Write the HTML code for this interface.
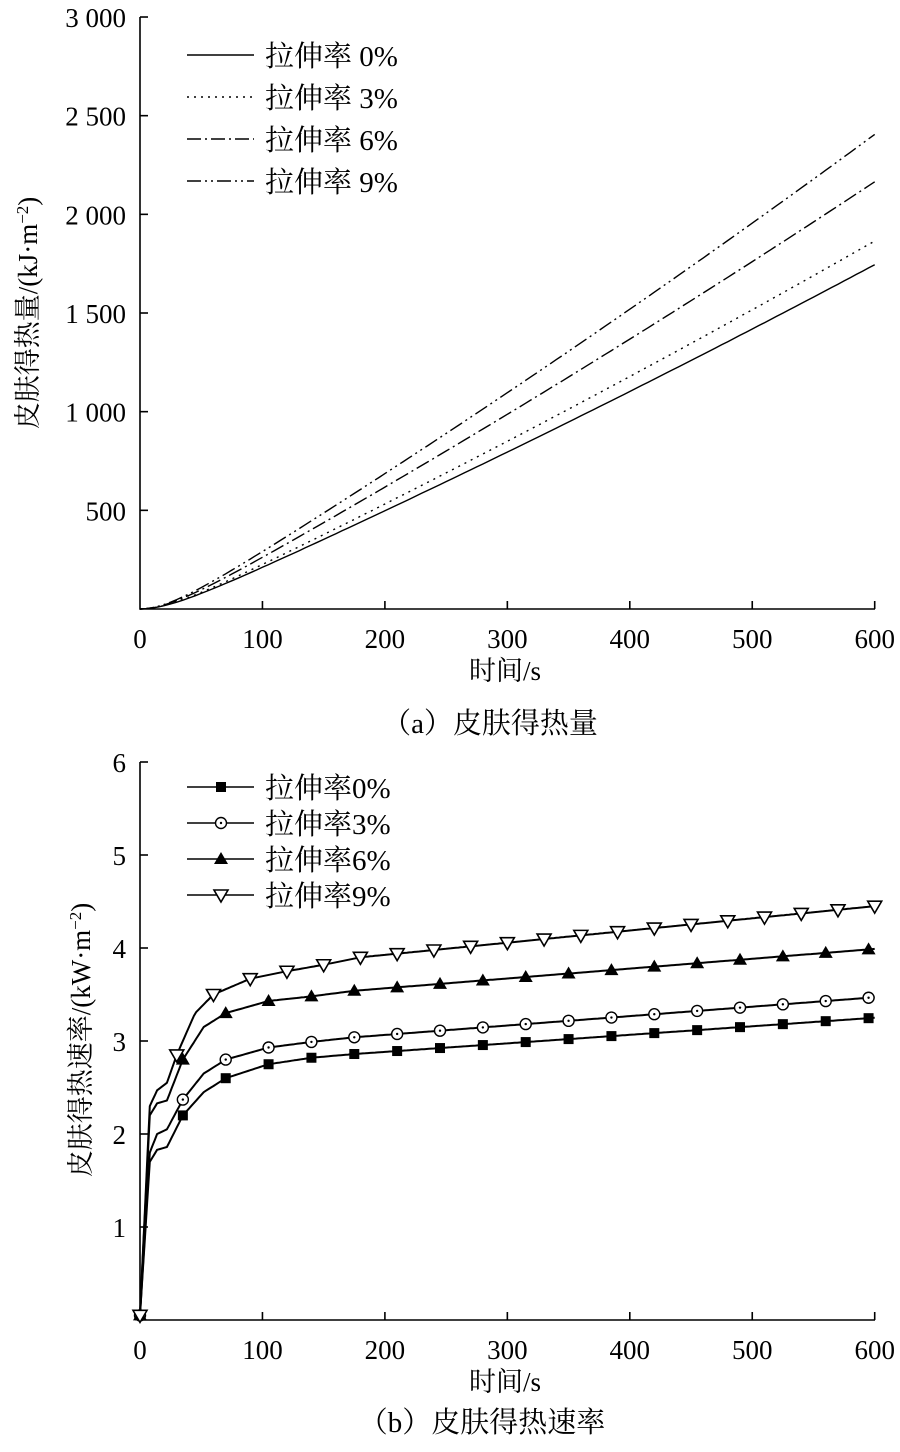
<!DOCTYPE html><html><head><meta charset="utf-8"><style>body{margin:0;background:#fff}svg text{font-family:"Liberation Serif","Noto Serif CJK SC",serif;fill:#000}</style></head><body>
<svg id="s" width="900" height="1447" xmlns="http://www.w3.org/2000/svg"></svg>
<script>
const s=document.getElementById('s');let h='';
const X=t=>140+t*1.2245;
const Y1=v=>609-v*0.19733;
h+=`<g stroke="#000" stroke-width="1.6" fill="none"><path d="M140 17V609H875"/>`;
for(let v=500;v<=3000;v+=500)h+=`<path d="M140 ${Y1(v)}h8"/>`;
for(let t=100;t<=600;t+=100)h+=`<path d="M${X(t)} 609v-8"/>`;
h+='</g>';
for(let v=500;v<=3000;v+=500){let l=v>=1000?String(v).replace(/(\d)(\d{3})$/,'$1 $2'):v;h+=`<text x="126" y="${Y1(v)+10}" font-size="27" text-anchor="end">${l}</text>`}
for(let t=0;t<=600;t+=100)h+=`<text x="${X(t)}" y="648" font-size="27" text-anchor="middle">${t}</text>`;
h+=`<text x="505" y="680" font-size="27" text-anchor="middle">时间/s</text>`;
h+=`<text transform="translate(37,313) rotate(-90)" font-size="27" text-anchor="middle">皮肤得热量/(kJ·m<tspan dy="-9" font-size="17">−2</tspan><tspan dy="9">)</tspan></text>`;
h+=`<text x="490" y="733" font-size="29" text-anchor="middle">（a）皮肤得热量</text>`;
const fin=[1745,1865,2165,2405],das=['','2 5','14 4 2 4','14 4 2 4 2 4'];
fin.forEach((f,i)=>{let p='';for(let t=0;t<=600;t+=5){let g=t=>2.29*(t-25*(1-Math.exp(-t/25)))+0.0004*t*t;let v=f*g(t)/g(600);p+=(t?'L':'M')+X(t).toFixed(1)+' '+Y1(v).toFixed(1)}h+=`<path d="${p}" stroke="#000" stroke-width="1.4" fill="none" stroke-dasharray="${das[i]}"/>`;
let ly=[55,97,139,181][i];h+=`<path d="M187 ${ly}H254" stroke="#000" stroke-width="1.4" stroke-dasharray="${das[i]}"/><text x="265" y="${ly+11}" font-size="29">拉伸率 ${['0','3','6','9'][i]}%</text>`});
const Y2=v=>1320-v*93;
h+=`<g stroke="#000" stroke-width="1.6" fill="none"><path d="M140 762V1320H875"/>`;
for(let v=1;v<=6;v++)h+=`<path d="M140 ${Y2(v)}h8"/>`;
for(let t=100;t<=600;t+=100)h+=`<path d="M${X(t)} 1320v-8"/>`;
h+='</g>';
for(let v=1;v<=6;v++)h+=`<text x="126" y="${Y2(v)+10}" font-size="27" text-anchor="end">${v}</text>`;
for(let t=0;t<=600;t+=100)h+=`<text x="${X(t)}" y="1359" font-size="27" text-anchor="middle">${t}</text>`;
h+=`<text x="505" y="1391" font-size="27" text-anchor="middle">时间/s</text>`;
h+=`<text transform="translate(90,1040) rotate(-90)" font-size="27" text-anchor="middle">皮肤得热速率/(kW·m<tspan dy="-9" font-size="17">−2</tspan><tspan dy="9">)</tspan></text>`;
h+=`<text x="482" y="1432" font-size="29" text-anchor="middle">（b）皮肤得热速率</text>`;
const D=[
[[0,0.05],[8,1.7],[14,1.83],[22,1.86],[35,2.2],[52,2.45],[70,2.6],[105,2.75],[140,2.82],[175,2.86],[600,3.25]],
[[0,0.05],[8,1.8],[14,2.0],[22,2.05],[35,2.37],[52,2.65],[70,2.8],[105,2.93],[140,2.99],[175,3.04],[600,3.47]],
[[0,0.05],[8,2.2],[14,2.33],[22,2.36],[35,2.8],[52,3.15],[70,3.3],[105,3.43],[140,3.48],[175,3.54],[600,3.99]],
[[0,0.05],[8,2.3],[14,2.47],[22,2.55],[30,2.85],[45,3.3],[60,3.5],[90,3.67],[120,3.75],[150,3.82],[180,3.9],[600,4.45]]];
function f(d,t){for(let i=1;i<d.length;i++)if(t<=d[i][0]){let a=d[i-1],b=d[i];return a[1]+(b[1]-a[1])*(t-a[0])/(b[0]-a[0])}return d[d.length-1][1]}
function mk(i,x,y){if(i==0)return `<rect x="${x-5}" y="${y-5}" width="10" height="10"/>`;
if(i==1)return `<circle cx="${x}" cy="${y}" r="5.5" fill="#fff" stroke="#000" stroke-width="1.4"/><circle cx="${x}" cy="${y}" r="1.2"/>`;
if(i==2)return `<path d="M${x} ${y-7}L${x+7} ${y+5}H${x-7}Z"/>`;
return `<path d="M${x} ${y+7}L${x+7} ${y-5}H${x-7}Z" fill="#fff" stroke="#000" stroke-width="1.6"/>`}
D.forEach((d,i)=>{let p='';for(let t=0;t<=600;t+=2){p+=(t?'L':'M')+X(t).toFixed(1)+' '+Y2(f(d,t)).toFixed(1)}h+=`<path d="${p}" stroke="#000" stroke-width="2" fill="none" stroke-linejoin="round"/>`;
let st=i==3?30:35;for(let t=st;t<=600;t+=st){if(i<3&&t>595)break;h+=mk(i,X(t),Y2(f(d,t)))}h+=mk(i,X(0),Y2(0.05));
let ly=[787,823,859,895][i];h+=`<path d="M187 ${ly}H254" stroke="#000" stroke-width="1.6"/>`+mk(i,221,ly)+`<text x="265" y="${ly+11}" font-size="29">拉伸率${['0','3','6','9'][i]}%</text>`});
s.innerHTML=h;
</script></body></html>
